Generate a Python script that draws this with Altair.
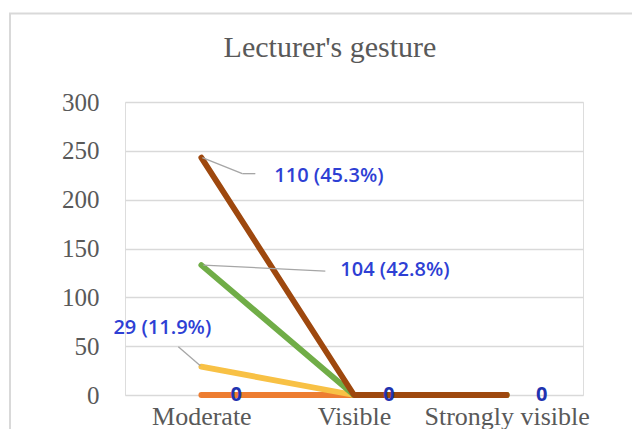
import altair as alt
import pandas as pd

categories = ["Moderate", "Visible", "Strongly visible"]
series_names = ["Series 1", "Series 2", "Series 3", "Series 4"]
series_values = [
    [0, 0, 0],
    [29, 0, 0],
    [104, 0, 0],
    [110, 0, 0],
]
series_colors = ["#ED7D31", "#F8C145", "#70AD47", "#9E480E"]
y_ticks = [0, 50, 100, 150, 200, 250, 300]
title_text = "Lecturer's gesture"

rows = []
for si, (name, vals) in enumerate(zip(series_names, series_values)):
    for ci, (cat, v) in enumerate(zip(categories, vals)):
        rows.append({"series": name, "order": si, "ci": ci, "category": cat, "value": v})
df = pd.DataFrame(rows)

grey = "#595959"
label_blue = "#2E3FD4"
zero_blue = "#1F33B0"
leader = "#A6A6A6"

base = (
    alt.Chart(df)
    .transform_window(
        cum="sum(value)",
        sort=[alt.SortField("order")],
        groupby=["category"],
        frame=[None, 0],
    )
    .transform_joinaggregate(total="sum(value)", groupby=["category"])
    .transform_calculate(
        label="datum.value > 0 ? format(datum.value, 'd') + ' (' + format(datum.value / datum.total, '.1%') + ')' : format(datum.value, 'd')"
    )
)

X = alt.X(
    "category:N",
    scale=alt.Scale(type="point", domain=categories, padding=0.5),
    axis=alt.Axis(
        title=None,
        domain=False,
        ticks=False,
        grid=False,
        labelAngle=0,
        labelFont="Liberation Serif",
        labelFontSize=26,
        labelColor=grey,
        labelPadding=29,
        labelBaseline="alphabetic",
        labelOverlap=False,
        labelLimit=300,
    ),
)
Y = alt.Y(
    "cum:Q",
    scale=alt.Scale(domain=[0, 300], nice=False),
    axis=alt.Axis(
        title=None,
        values=y_ticks,
        domain=False,
        ticks=False,
        grid=True,
        gridColor="#D9D9D9",
        gridWidth=1.3,
        labelFont="Liberation Serif",
        labelFontSize=25,
        labelColor=grey,
        labelPadding=26,
    ),
)
X2 = alt.X2("category:N")
Y2 = alt.Y2("cum:Q")

layers = []

# chart-area border
one = alt.Data(values=[{"t": title_text}])
border = alt.Chart(one).mark_rect(
    fill="white", fillOpacity=0, stroke="#D9D9D9", strokeWidth=2
).encode(
    x=alt.value(-115), y=alt.value(-88.5), x2=alt.value(800), y2=alt.value(600)
)
layers.append(border)

# title
layers.append(
    alt.Chart(one).mark_text(
        font="Liberation Serif", fontSize=30, color=grey,
        align="center", baseline="alphabetic",
    ).encode(x=alt.value(205), y=alt.value(-45), text="t:N")
)

# stacked lines
for si, col in enumerate(series_colors):
    layers.append(
        base.transform_filter(alt.datum.order == si)
        .mark_line(color=col, strokeWidth=5.8, strokeCap="round", strokeJoin="round")
        .encode(x=X, y=Y, order=alt.Order("ci:Q"))
    )

def sel(si, cat):
    return (alt.datum.order == si) & (alt.datum.category == cat)

# leader lines
leader_specs = [
    (3, [(1, 0, 41, 16), (41, 16, 54, 16)]),
    (2, [(2, 0, 124, 6)]),
    (1, [(-1, -1, -23, -20)]),
]
for si, segs in leader_specs:
    for xo, yo, x2o, y2o in segs:
        layers.append(
            base.transform_filter(sel(si, categories[0]))
            .mark_rule(
                color=leader, strokeWidth=1.3,
                xOffset=xo, yOffset=yo, x2Offset=x2o, y2Offset=y2o,
            )
            .encode(x=X, y=Y, x2=X2, y2=Y2)
        )

# data labels
label_specs = [
    (3, "left", 73, 18),
    (2, "left", 139, 5),
    (1, "center", -39, -39),
]
for si, al, dx, dy in label_specs:
    layers.append(
        base.transform_filter(sel(si, categories[0]))
        .mark_text(
            align=al, baseline="middle", dx=dx, dy=dy,
            font="Open Sans", fontSize=20, fontWeight=600, color=label_blue,
        )
        .encode(x=X, y=Y, text="label:N")
    )

# zero labels for the bottom series
layers.append(
    base.transform_filter(alt.datum.order == 0)
    .mark_text(
        align="center", baseline="middle", dx=35, dy=0,
        font="Open Sans", fontSize=20, fontWeight="bold", color=zero_blue,
    )
    .encode(x=X, y=Y, text="label:N")
)

chart = (
    alt.layer(*layers)
    .properties(
        width=458,
        height=293,
        autosize=alt.AutoSizeParams(type="none"),
        padding={"left": 117, "top": 94, "right": 49, "bottom": 34},
    )
    .configure_view(stroke=None)
    .configure(background="white")
)

chart.save("out.html", embed_options={"renderer": "svg", "actions": False})
